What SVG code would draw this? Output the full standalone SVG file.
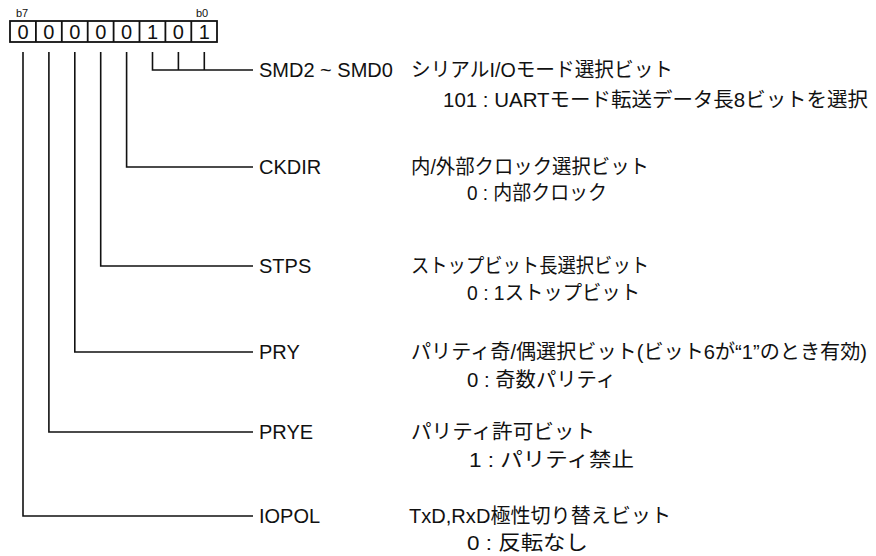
<svg xmlns="http://www.w3.org/2000/svg" width="876" height="556" viewBox="0 0 876 556">
<style>
text{font-family:"Liberation Sans","Noto Sans CJK JP",sans-serif;fill:#111;}
.lbl{font-size:20px;}
.bit{font-size:20px;text-anchor:middle;}
.small{font-size:11px;}
.ln{fill:none;stroke:#111;stroke-width:1.6;}
.cell{fill:#fff;stroke:#111;stroke-width:1.8;}
</style>
<rect width="876" height="556" fill="#fff"/>
<g id="register">
<text class="small" x="16" y="17">b7</text>
<text class="small" x="196" y="17">b0</text>
<rect class="cell" x="10" y="21" width="207" height="21"/>
<path class="ln" d="M35.9 21V42M61.8 21V42M87.7 21V42M113.6 21V42M139.5 21V42M165.4 21V42M191.3 21V42" style="stroke-width:1.8"/>
<text class="bit" x="23" y="39">0</text>
<text class="bit" x="48.9" y="39">0</text>
<text class="bit" x="74.8" y="39">0</text>
<text class="bit" x="100.7" y="39">0</text>
<text class="bit" x="126.6" y="39">0</text>
<text class="bit" x="152.5" y="39">1</text>
<text class="bit" x="178.4" y="39">0</text>
<text class="bit" x="204.3" y="39">1</text>
</g>
<g id="connectors">
<path class="ln" d="M152.5 52V70H253M178.4 52V70M204.3 52V70"/>
<path class="ln" d="M126.6 52V167H253"/>
<path class="ln" d="M100.7 52V266H253"/>
<path class="ln" d="M74.8 52V352H253"/>
<path class="ln" d="M48.9 52V432H253"/>
<path class="ln" d="M23 52V516H253"/>
</g>
<g id="smd">
<text class="lbl" x="259" y="77">SMD2 ~ SMD0</text>
<text class="lbl" x="411" y="77" textLength="262" lengthAdjust="spacingAndGlyphs">シリアルI/Oモード選択ビット</text>
<text class="lbl" x="443" y="107" textLength="425" lengthAdjust="spacingAndGlyphs">101 : UARTモード転送データ長8ビットを選択</text>
</g>
<g id="ckdir">
<text class="lbl" x="259" y="174">CKDIR</text>
<text class="lbl" x="411" y="174" textLength="238" lengthAdjust="spacingAndGlyphs">内/外部クロック選択ビット</text>
<text class="lbl" x="467" y="200" textLength="140" lengthAdjust="spacingAndGlyphs">0 : 内部クロック</text>
</g>
<g id="stps">
<text class="lbl" x="259" y="273">STPS</text>
<text class="lbl" x="411" y="273" textLength="238" lengthAdjust="spacingAndGlyphs">ストップビット長選択ビット</text>
<text class="lbl" x="467" y="300" textLength="173" lengthAdjust="spacingAndGlyphs">0 : 1ストップビット</text>
</g>
<g id="pry">
<text class="lbl" x="259" y="359">PRY</text>
<text class="lbl" x="411" y="359" textLength="456" lengthAdjust="spacingAndGlyphs">パリティ奇/偶選択ビット(ビット6が“1”のとき有効)</text>
<text class="lbl" x="467" y="387" textLength="149" lengthAdjust="spacingAndGlyphs">0 : 奇数パリティ</text>
</g>
<g id="prye">
<text class="lbl" x="259" y="439">PRYE</text>
<text class="lbl" x="411" y="439" textLength="184" lengthAdjust="spacingAndGlyphs">パリティ許可ビット</text>
<text class="lbl" x="469" y="467" textLength="165" lengthAdjust="spacingAndGlyphs">1 : パリティ禁止</text>
</g>
<g id="iopol">
<text class="lbl" x="259" y="523">IOPOL</text>
<text class="lbl" x="409" y="523" textLength="262" lengthAdjust="spacingAndGlyphs">TxD,RxD極性切り替えビット</text>
<text class="lbl" x="467" y="550" textLength="121" lengthAdjust="spacingAndGlyphs">0 : 反転なし</text>
</g>
</svg>
